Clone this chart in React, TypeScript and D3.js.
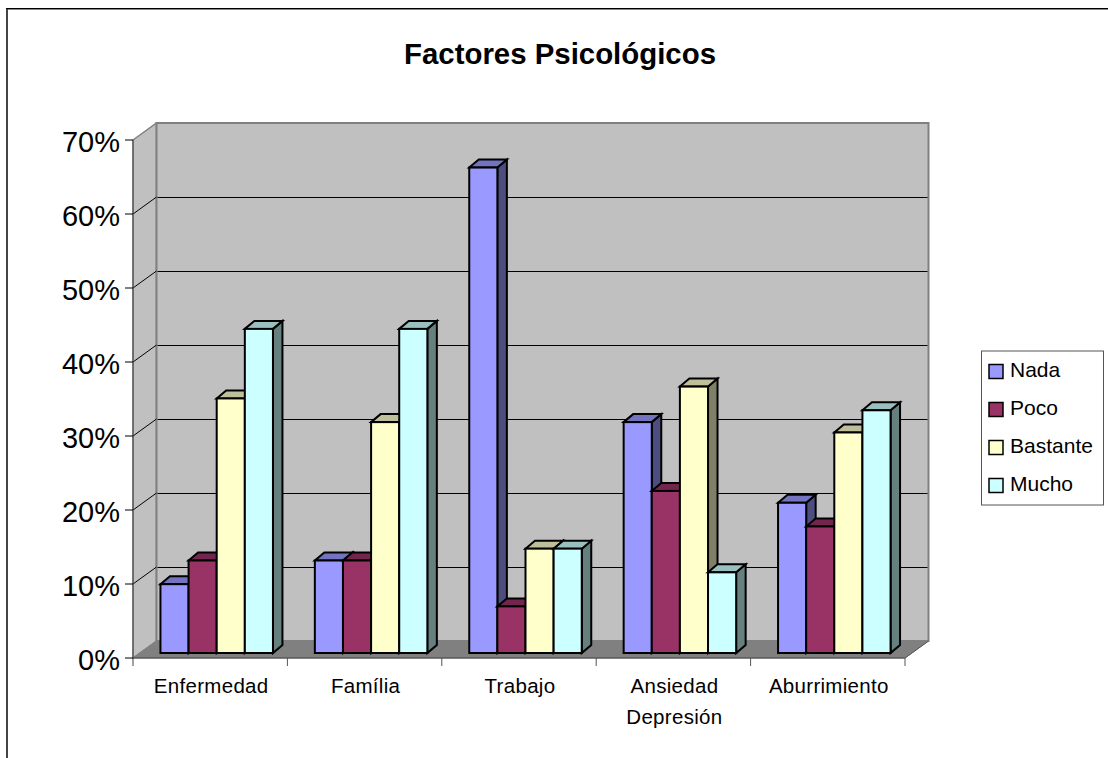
import React from "react";
import * as d3 from "d3";

const title = "Factores Psicológicos";
const categories = ["Enfermedad", "Família", "Trabajo", "Ansiedad Depresión", "Aburrimiento"];
const seriesNames = ["Nada", "Poco", "Bastante", "Mucho"];
const nada = [9.3, 12.5, 65.6, 31.2, 20.3];
const poco = [12.5, 12.5, 6.3, 21.9, 17.1];
const bastante = [34.4, 31.2, 14.1, 36.0, 29.8];
const mucho = [43.8, 43.8, 14.1, 10.9, 32.8];
const seriesValues = [nada, poco, bastante, mucho];
const colors = ["#9999ff", "#993366", "#ffffcc", "#ccffff"];
const yTicks = [0, 10, 20, 30, 40, 50, 60, 70];

const FONT = "'Liberation Sans', Arial, sans-serif";

export default function App() {
  const x = d3.scaleBand<string>().domain(categories).range([133, 905]);
  const y = d3.scaleLinear().domain([0, 70]).range([658, 140]);
  const wallDx = 23.5, wallDy = -17;
  const barDx = 6.5, barDy = -5;
  const sideDx = 9.5, sideDy = -8;
  const inner = d3.scaleBand<string>().domain(seriesNames).range([0, 112.5]);
  const catPad = (x.bandwidth() - 112.5) / 2;
  const yBar = (v: number) => y(v) + barDy;
  const poly = (pts: [number, number][]) => pts.map(p => p.join(",")).join(" ");
  const x0 = x.range()[0], x1 = x.range()[1];
  const y0 = y(0), yTop = y(70);
  const bx = (v: number) => v + wallDx, by = (v: number) => v + wallDy;
  const snap = (v: number) => Math.round(v) + 0.5;
  return (
    <svg width={1108} height={758} style={{ position: "absolute", left: 0, top: 0, fontFamily: FONT }}>
      <rect x={0} y={0} width={1108} height={758} fill="#fff" />
      <path d="M7,758 V9" fill="none" stroke="#444" strokeWidth={2} />
      <line x1={6} x2={1108} y1={8.5} y2={8.5} stroke="#000" />
      <line x1={8} x2={1108} y1={9.5} y2={9.5} stroke="#888" />
      <text x={560} y={64} textAnchor="middle" fontSize={29.4} fontWeight="bold" fill="#000">{title}</text>

      {/* floor and walls */}
      <polygon points={poly([[x0, yTop], [bx(x0), by(yTop)], [bx(x0), by(y0)], [x0, y0]])} fill="#c0c0c0" stroke="#808080" strokeWidth={1.5} />
      <polygon points={poly([[bx(x0), by(yTop)], [bx(x1), by(yTop)], [bx(x1), by(y0)], [bx(x0), by(y0)]])} fill="#c0c0c0" stroke="#808080" strokeWidth={2} />
      <polygon points={poly([[x0, y0], [x1, y0], [bx(x1), by(y0)], [bx(x0), by(y0)]])} fill="#808080" stroke="#808080" />

      {/* gridlines */}
      {yTicks.slice(1, -1).map(t => (
        <g key={t}>
          <line x1={bx(x0) + 1} x2={bx(x1) - 1} y1={snap(by(y(t)) - 0.5)} y2={snap(by(y(t)) - 0.5)} stroke="#000" />
          <line x1={x0} x2={bx(x0)} y1={y(t)} y2={by(y(t))} stroke="#000" />
        </g>
      ))}

      {/* axes */}
      <line x1={x0} x2={x0} y1={yTop} y2={y0 + 8} stroke="#444" />
      <line x1={x0} x2={x1} y1={y0} y2={y0} stroke="#444" />
      <line x1={x1} x2={bx(x1)} y1={y0} y2={by(y0)} stroke="#555" />
      {yTicks.map(t => (
        <g key={t}>
          <line x1={x0 - 8} x2={x0} y1={y(t)} y2={y(t)} stroke="#000" />
          <text x={x0 - 13} y={y(t) + 12} textAnchor="end" fontSize={29} fill="#000">{t}%</text>
        </g>
      ))}
      {categories.map(c => (
        <line key={c} x1={x(c)! + x.bandwidth()} x2={x(c)! + x.bandwidth()} y1={y0} y2={y0 + 8} stroke="#555" />
      ))}
      {categories.map(c => {
        const cx = x(c)! + x.bandwidth() / 2 + 1;
        const lines = c.split(" ");
        return lines.map((l, i) => (
          <text key={l} x={cx} y={693 + i * 31} textAnchor="middle" fontSize={20.5} letterSpacing={0.3} fill="#000">{l}</text>
        ));
      })}

      {/* bars */}
      {categories.map(c => (
        <g key={c}>
          {seriesNames.map((s, si) => {
            const ci = categories.indexOf(c);
            const left = x(c)! + catPad + barDx + inner(s)!;
            const w = inner.bandwidth();
            const v = seriesValues[si][ci];
            const top = yBar(v), bottom = yBar(0);
            const col = d3.rgb(colors[si]);
            const topCol = d3.rgb(col.r * 0.75, col.g * 0.75, col.b * 0.75).formatHex();
            const sideCol = d3.rgb(col.r * 0.5, col.g * 0.5, col.b * 0.5).formatHex();
            return (
              <g key={s} stroke="#000" strokeWidth={2} strokeLinejoin="miter">
                <polygon points={poly([[left + w, top], [left + w + sideDx, top + sideDy], [left + w + sideDx, bottom + sideDy], [left + w, bottom]])} fill={sideCol} />
                <polygon points={poly([[left, top], [left + sideDx, top + sideDy], [left + w + sideDx, top + sideDy], [left + w, top]])} fill={topCol} />
                <rect x={left} y={top} width={w} height={bottom - top} fill={colors[si]} />
              </g>
            );
          })}
        </g>
      ))}

      {/* legend */}
      <rect x={981.5} y={351} width={122} height={154} fill="#fff" stroke="#555" />
      {seriesNames.map((s, i) => (
        <g key={s}>
          <rect x={989} y={364.5 + i * 38} width={14} height={14} fill={colors[i]} stroke="#000" strokeWidth={1.5} />
          <text x={1010} y={377 + i * 38} fontSize={21} fill="#000">{s}</text>
        </g>
      ))}
    </svg>
  );
}
